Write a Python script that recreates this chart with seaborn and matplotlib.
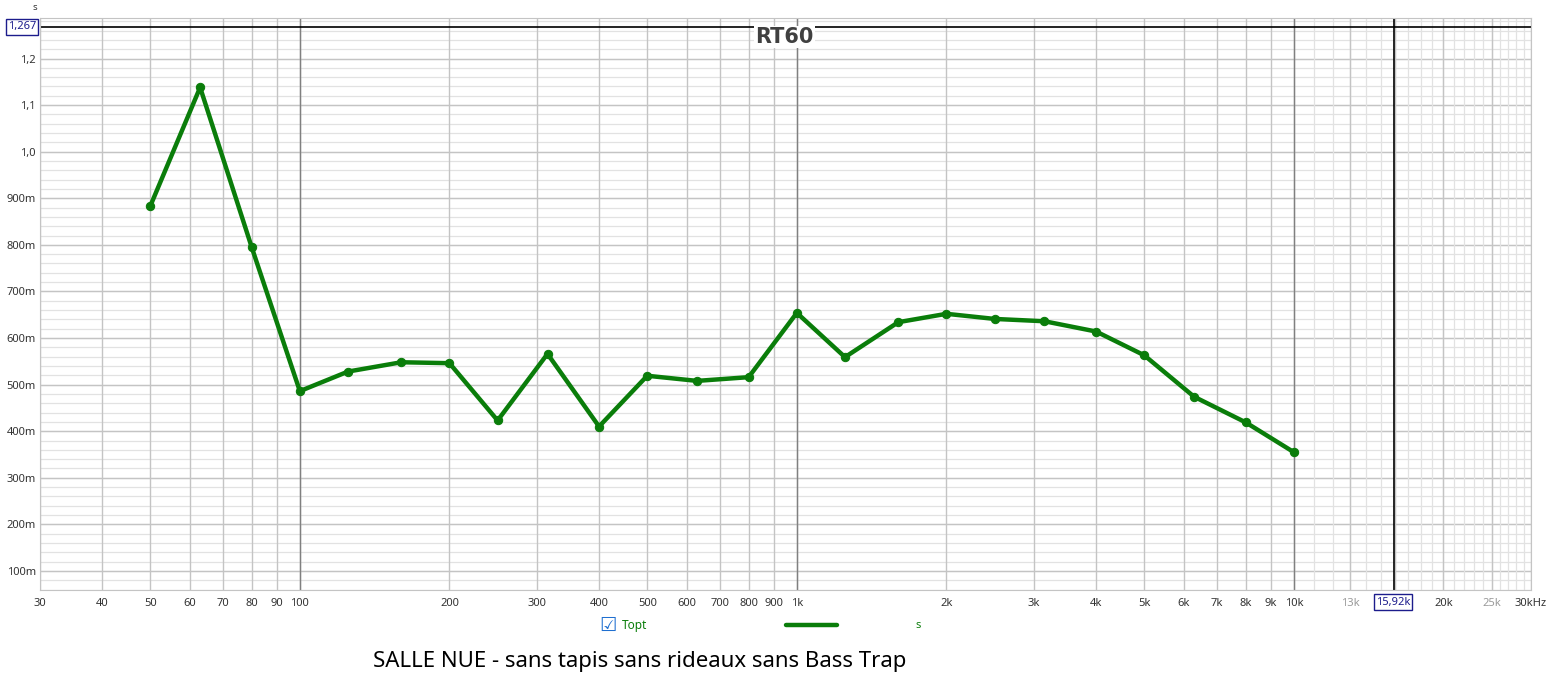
import numpy as np
import pandas as pd
import seaborn as sns
import matplotlib.pyplot as plt
from matplotlib.lines import Line2D

# RT60 per 1/3 octave band
freqs = [50, 63, 80, 100, 125, 160, 200, 250, 315, 400, 500, 630, 800,
         1000, 1250, 1600, 2000, 2500, 3150, 4000, 5000, 6300, 8000, 10000]
rt60 = [0.883, 1.138, 0.795, 0.486, 0.528, 0.548, 0.546, 0.423, 0.566, 0.410,
        0.519, 0.508, 0.516, 0.654, 0.559, 0.634, 0.652, 0.641, 0.636, 0.614,
        0.563, 0.474, 0.419, 0.355]

xticks = [30, 40, 50, 60, 70, 80, 90, 100, 200, 300, 400, 500, 600, 700, 800, 900,
          1000, 2000, 3000, 4000, 5000, 6000, 7000, 8000, 9000, 10000,
          13000, 16000, 20000, 25000, 30000]
xlabels = ['30', '40', '50', '60', '70', '80', '90', '100', '200', '300', '400', '500',
           '600', '700', '800', '900', '1k', '2k', '3k', '4k', '5k', '6k', '7k', '8k',
           '9k', '10k', '13k', '16k', '20k', '25k', '30kHz']
faded = ['13k', '16k', '25k']
yticks = [0.1, 0.2, 0.3, 0.4, 0.5, 0.6, 0.7, 0.8, 0.9, 1.0, 1.1, 1.2]
ylabels = ['100m', '200m', '300m', '400m', '500m', '600m', '700m', '800m', '900m',
           '1,0', '1,1', '1,2']
cursor_x = 15920
cursor_y = 1.267

df = pd.DataFrame({'freq': freqs, 'rt60': rt60})

sns.set_style('white')
plt.rcParams['font.family'] = ['Noto Sans', 'DejaVu Sans']

fig = plt.figure(figsize=(15.5, 6.79), dpi=100)
ax = fig.add_axes([0.0258, 0.131, 0.9619, 0.8425])

ax.set_xscale('log')
ax.set_xlim(30, 30000)
ax.set_ylim(0.059, 1.287)

# grid
for y in np.arange(0.06, 1.29, 0.02):
    ax.axhline(y, color='#e2e2e2', lw=0.9, zorder=0)
for y in yticks:
    ax.axhline(y, color='#c4c4c4', lw=1.0, zorder=0)
for x in range(11000, 30000, 1000):
    ax.axvline(x, color='#e2e2e2', lw=0.9, zorder=0)
for x in xticks:
    ax.axvline(x, color='#c4c4c4', lw=1.0, zorder=0)
for x in [100, 1000, 10000]:
    ax.axvline(x, color='#808080', lw=1.0, zorder=0)

# cursors
ax.axvline(cursor_x, color='black', lw=1.2, zorder=1)
ax.axhline(cursor_y, color='black', lw=1.2, zorder=1)

sns.lineplot(data=df, x='freq', y='rt60', ax=ax, color='#0a7d0a', lw=3.2,
             marker='o', markersize=6, markeredgecolor='#0a7d0a', zorder=3)

ax.set_xticks(xticks)
ax.set_xticklabels(xlabels)
ax.xaxis.set_minor_locator(plt.NullLocator())
ax.set_yticks(yticks)
ax.set_yticklabels(ylabels)
ax.tick_params(axis='both', length=0, labelsize=8, labelcolor='#333333')
ax.tick_params(axis='x', pad=6)
ax.tick_params(axis='y', pad=3)
for lbl in ax.get_xticklabels():
    if lbl.get_text() in faded:
        lbl.set_color('#9a9a9a')
ax.set_xlabel('')
ax.set_ylabel('')
for sp in ax.spines.values():
    sp.set_color('#c4c4c4')

ax.text(0.4995, 0.966, 'RT60', transform=ax.transAxes, ha='center', va='center',
        fontsize=15, fontweight='bold', color='#404040', family=['DejaVu Sans'],
        bbox=dict(boxstyle='square,pad=0.05', fc='white', ec='none'), zorder=4)

# cursor value boxes
box = dict(boxstyle='square,pad=0.2', fc='white', ec='#1c1c8c', lw=1)
fig.text(22 / 1550, 1 - 27 / 679, '1,267', ha='center', va='center', fontsize=8,
         color='#1c1c8c', bbox=box)
fig.text(1393 / 1550, 1 - 602 / 679, '15,92k', ha='center', va='center', fontsize=8,
         color='#1c1c8c', bbox=box, zorder=5)
fig.text(35 / 1550, 1 - 8 / 679, 's', ha='center', va='center', fontsize=7, color='#333333')

# legend row
fig.text(608 / 1550, 1 - 625 / 679, '\u2611', ha='center', va='center', fontsize=14,
         color='#1f6fd0', family=['DejaVu Sans'])
fig.text(622 / 1550, 1 - 625 / 679, 'Topt', ha='left', va='center', fontsize=8.5,
         color='#0a7d0a')
fig.add_artist(Line2D([786 / 1550, 837 / 1550], [1 - 625 / 679, 1 - 625 / 679],
                      color='#0a7d0a', lw=3.2, transform=fig.transFigure))
fig.text(918 / 1550, 1 - 625 / 679, 's', ha='center', va='center', fontsize=8,
         color='#0a7d0a')

fig.text(640 / 1550, 1 - 661 / 679, 'SALLE NUE - sans tapis sans rideaux sans Bass Trap',
         ha='center', va='center', fontsize=16, color='black')

fig.savefig('out.png', dpi=100)
